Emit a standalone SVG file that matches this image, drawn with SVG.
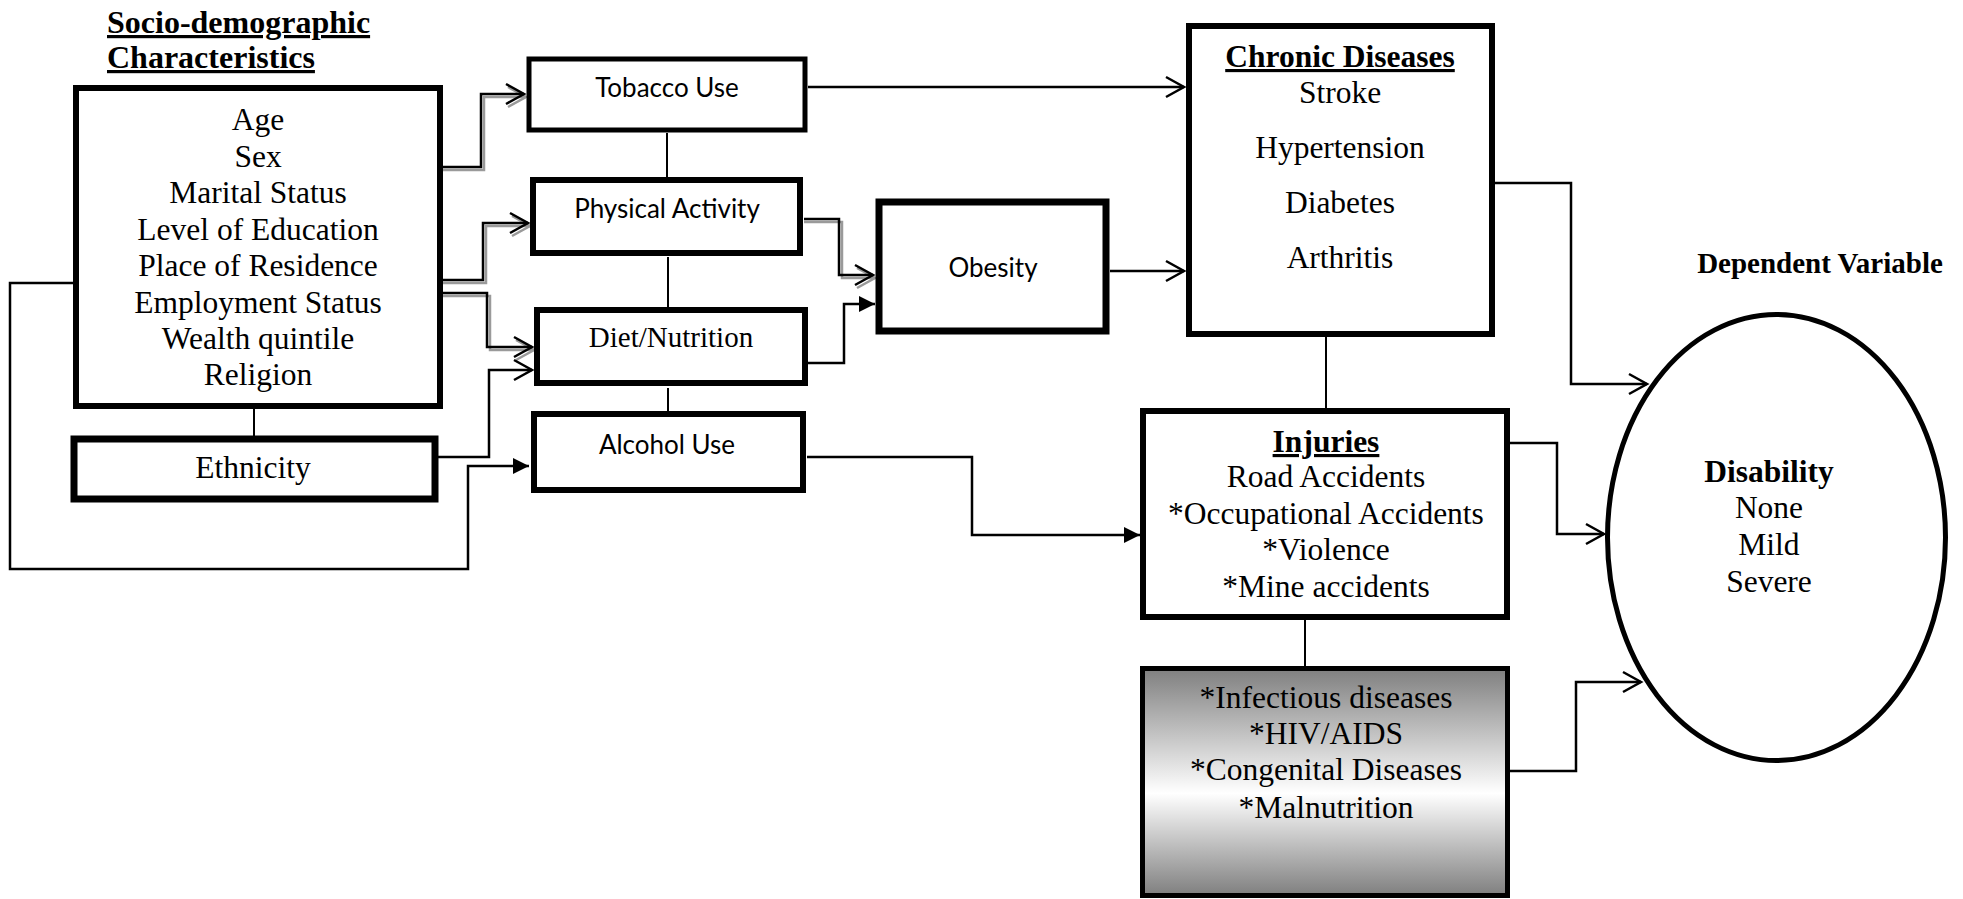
<svg xmlns="http://www.w3.org/2000/svg" width="1963" height="899" viewBox="0 0 1963 899">
<style>
.box{fill:#fff;stroke:#000;stroke-width:6}
.t{font-family:"Liberation Serif","Times New Roman",serif;font-size:31.5px;fill:#000;text-anchor:middle}
.b{font-weight:bold}
.u{text-decoration:underline}
.c{font-family:Lato,"Noto Sans",sans-serif;font-size:26px;fill:#000;text-anchor:middle}
.ln{fill:none;stroke:#000;stroke-width:2.5}
.sh{fill:none;stroke:#9a9a9a;stroke-width:2.5}
.thin{fill:none;stroke:#000;stroke-width:2}
</style>
<defs>
<marker id="open" markerUnits="userSpaceOnUse" markerWidth="30" markerHeight="30" refX="0" refY="0" orient="auto" style="overflow:visible"><path d="M-18,-10 L0,0 L-18,10" fill="none" stroke="#000" stroke-width="2.5"/></marker>
<marker id="openg" markerUnits="userSpaceOnUse" markerWidth="30" markerHeight="30" refX="0" refY="0" orient="auto" style="overflow:visible"><path d="M-18,-10 L0,0 L-18,10" fill="none" stroke="#9a9a9a" stroke-width="2.5"/></marker>
<marker id="fill" markerUnits="userSpaceOnUse" markerWidth="30" markerHeight="30" refX="0" refY="0" orient="auto" style="overflow:visible"><path d="M-16,-8 L0,0 L-16,8 Z" fill="#000"/></marker>
<linearGradient id="grad" x1="0" y1="0" x2="0" y2="1">
<stop offset="0" stop-color="#7f7f7f"/>
<stop offset="0.55" stop-color="#ffffff"/>
<stop offset="1" stop-color="#7f7f7f"/>
</linearGradient>
</defs>
<rect width="1963" height="899" fill="#fff"/>

<g id="title">
<text class="t b u" x="107" y="33" style="text-anchor:start;font-size:32px">Socio-demographic</text>
<text class="t b u" x="107" y="68" style="text-anchor:start;font-size:32px">Characteristics</text>
</g>

<g id="connectors">
<path class="sh" d="M443,170 H484 V97 H526" marker-end="url(#openg)"/>
<path class="ln" d="M443,167 H481 V94 H524" marker-end="url(#open)"/>
<path class="sh" d="M437,283 H486 V226 H530" marker-end="url(#openg)"/>
<path class="ln" d="M437,280 H483 V223 H528" marker-end="url(#open)"/>
<path class="sh" d="M437,296 H490 V350 H534" marker-end="url(#openg)"/>
<path class="ln" d="M437,293 H487 V347 H532" marker-end="url(#open)"/>
<path class="ln" d="M438,457 H489 V370 H532" marker-end="url(#open)"/>
<path class="ln" d="M73,283 H10 V569 H468 V466 H529" marker-end="url(#fill)"/>
<path class="ln" d="M808,87 H1184" marker-end="url(#open)"/>
<path class="sh" d="M804,222 H842 V278 H875" marker-end="url(#openg)"/>
<path class="ln" d="M804,219 H839 V275 H873" marker-end="url(#open)"/>
<path class="ln" d="M808,363 H844 V304 H875" marker-end="url(#fill)"/>
<path class="ln" d="M1110,271 H1184" marker-end="url(#open)"/>
<path class="ln" d="M807,457 H972 V535 H1140" marker-end="url(#fill)"/>
<path class="ln" d="M1495,183 H1571 V384 H1647" marker-end="url(#open)"/>
<path class="ln" d="M1510,443 H1557 V534 H1604" marker-end="url(#open)"/>
<path class="ln" d="M1510,771 H1576 V682 H1641" marker-end="url(#open)"/>
<path class="thin" d="M254,409 V437"/>
<path class="thin" d="M667,133 V177"/>
<path class="thin" d="M668,257 V307"/>
<path class="thin" d="M668,388 V411"/>
<path class="thin" d="M1326,337 V408"/>
<path class="thin" d="M1305,612 V667"/>
</g>

<g id="socio">
<rect class="box" x="76" y="88" width="364" height="318"/>
<text class="t" x="258" y="130">Age</text>
<text class="t" x="258" y="167">Sex</text>
<text class="t" x="258" y="203">Marital Status</text>
<text class="t" x="258" y="240">Level of Education</text>
<text class="t" x="258" y="276">Place of Residence</text>
<text class="t" x="258" y="313">Employment Status</text>
<text class="t" x="258" y="349">Wealth quintile</text>
<text class="t" x="258" y="385">Religion</text>
</g>

<g id="ethnicity">
<rect class="box" x="74" y="439" width="361" height="60" style="stroke-width:7"/>
<text class="t" x="253" y="478">Ethnicity</text>
</g>

<g id="tobacco">
<rect class="box" x="529" y="59" width="276" height="71" style="stroke-width:5"/>
<text class="c" x="667" y="97">Tobacco Use</text>
</g>

<g id="physical">
<rect class="box" x="533" y="180" width="267" height="73"/>
<text class="c" x="667" y="218">Physical Activity</text>
</g>

<g id="diet">
<rect class="box" x="537" y="310" width="268" height="73"/>
<text class="t" x="671" y="347" style="font-size:29px">Diet/Nutrition</text>
</g>

<g id="alcohol">
<rect class="box" x="534" y="414" width="269" height="76"/>
<text class="c" x="667" y="454">Alcohol Use</text>
</g>

<g id="obesity">
<rect class="box" x="879" y="202" width="227" height="129" style="stroke-width:7"/>
<text class="c" x="993" y="277">Obesity</text>
</g>

<g id="chronic">
<rect class="box" x="1189" y="26" width="303" height="308"/>
<text class="t b u" x="1340" y="67">Chronic Diseases</text>
<text class="t" x="1340" y="103">Stroke</text>
<text class="t" x="1340" y="158">Hypertension</text>
<text class="t" x="1340" y="213">Diabetes</text>
<text class="t" x="1340" y="268">Arthritis</text>
</g>

<g id="injuries">
<rect class="box" x="1143" y="411" width="364" height="206"/>
<text class="t b u" x="1326" y="452">Injuries</text>
<text class="t" x="1326" y="487">Road Accidents</text>
<text class="t" x="1326" y="524">*Occupational Accidents</text>
<text class="t" x="1326" y="560">*Violence</text>
<text class="t" x="1326" y="597">*Mine accidents</text>
</g>

<g id="infectious">
<rect x="1142.5" y="668.5" width="365" height="227" fill="url(#grad)" stroke="#000" stroke-width="5"/>
<text class="t" x="1326" y="708">*Infectious diseases</text>
<text class="t" x="1326" y="744">*HIV/AIDS</text>
<text class="t" x="1326" y="780">*Congenital Diseases</text>
<text class="t" x="1326" y="818">*Malnutrition</text>
</g>

<g id="dependent-label">
<text class="t b" x="1820" y="273" style="font-size:29px">Dependent Variable</text>
</g>

<g id="disability">
<ellipse cx="1776.5" cy="537.5" rx="169" ry="223" fill="#fff" stroke="#000" stroke-width="5"/>
<text class="t b" x="1769" y="482">Disability</text>
<text class="t" x="1769" y="518">None</text>
<text class="t" x="1769" y="555">Mild</text>
<text class="t" x="1769" y="592">Severe</text>
</g>
</svg>
